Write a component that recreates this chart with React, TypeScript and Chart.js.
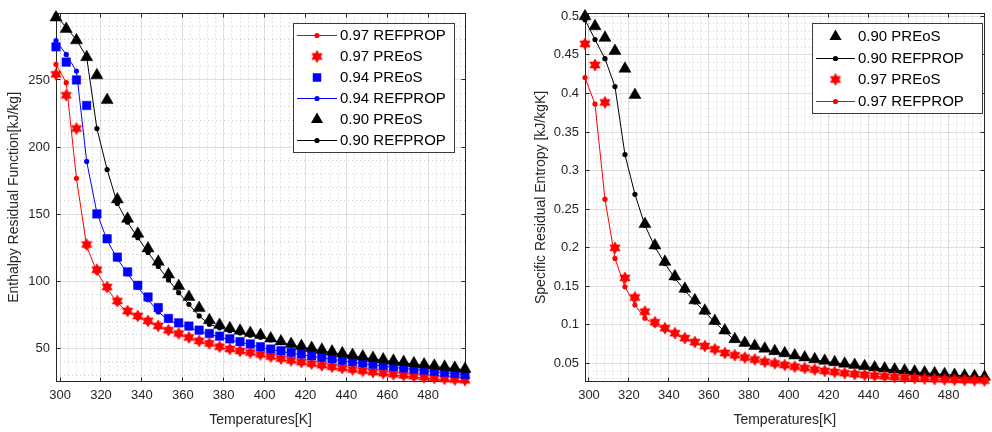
import React, { useEffect, useRef } from "react";
import { Chart, registerables } from "chart.js";

Chart.register(...registerables);

// ---------------- DATA ----------------
const temps = [298, 303, 308, 313, 318, 323, 328, 333, 338, 343, 348, 353, 358, 363, 368, 373, 378, 383, 388, 393, 398, 403, 408, 413, 418, 423, 428, 433, 438, 443, 448, 453, 458, 463, 468, 473, 478, 483, 488, 493, 498];

// Left: Enthalpy residual function [kJ/kg]
const hRef097 = [261.6, 248.0, 176.7, 126.0, 107.0, 94.5, 84.0, 77.0, 73.0, 69.5, 66.0, 63.0, 60.3, 57.6, 55.0, 53.0, 50.8, 49.0, 47.5, 46.2, 44.8, 43.2, 41.7, 40.4, 39.1, 37.9, 36.7, 35.6, 34.6, 33.6, 32.6, 31.7, 30.9, 30.1, 29.3, 28.6, 27.9, 27.3, 26.7, 26.2, 25.7];
const hPr097 = [254.2, 238.6, 213.8, 127.4, 108.6, 95.7, 85.3, 77.9, 74.2, 70.5, 66.8, 63.6, 61.1, 58.2, 55.6, 53.7, 51.3, 49.6, 48.1, 46.9, 45.5, 43.9, 42.4, 41.1, 39.8, 38.6, 37.4, 36.3, 35.3, 34.3, 33.3, 32.4, 31.5, 30.7, 29.9, 29.2, 28.5, 27.9, 27.3, 26.8, 26.3];
const hPr094 = [274.7, 263.3, 250.0, 231.0, 150.2, 131.7, 118.0, 107.0, 97.0, 88.3, 80.4, 72.3, 69.0, 66.6, 63.6, 61.1, 59.1, 57.1, 55.0, 53.3, 51.2, 49.5, 48.2, 47.0, 45.8, 44.5, 43.3, 42.2, 41.1, 40.1, 39.1, 38.1, 37.2, 36.3, 35.4, 34.6, 33.8, 33.0, 32.2, 31.4, 30.6];
const hRef094 = [279.4, 269.0, 256.6, 189.3, 151.0, 130.5, 116.8, 105.6, 95.6, 86.3, 77.2, 71.0, 68.0, 65.6, 62.9, 60.5, 58.5, 56.5, 54.5, 52.8, 50.8, 49.1, 47.7, 46.5, 45.3, 44.1, 42.9, 41.8, 40.7, 39.7, 38.7, 37.7, 36.8, 35.9, 35.0, 34.2, 33.4, 32.6, 31.8, 31.1, 30.3];
const hPr090 = [296.5, 288.0, 279.5, 267.0, 253.5, 235.0, 161.0, 146.5, 135.4, 124.5, 114.5, 105.0, 96.4, 88.3, 80.0, 71.0, 67.5, 65.0, 63.2, 61.5, 59.9, 57.4, 55.2, 53.3, 51.7, 50.3, 48.9, 47.6, 46.3, 45.1, 43.9, 42.9, 41.8, 40.8, 39.8, 38.9, 38.0, 37.1, 36.3, 35.5, 34.7];
const hRef090 = [298.5, 289.0, 280.0, 267.0, 213.8, 183.2, 158.0, 144.0, 132.5, 121.5, 111.0, 101.0, 91.5, 82.8, 74.2, 68.0, 65.3, 63.2, 61.5, 59.8, 58.3, 56.3, 54.3, 52.5, 50.9, 49.5, 48.1, 46.8, 45.5, 44.3, 43.2, 42.1, 41.1, 40.1, 39.1, 38.2, 37.3, 36.5, 35.7, 34.9, 34.1];

// Right: Specific residual entropy [kJ/kgK]
const sPr090 = [0.4999, 0.487, 0.472, 0.455, 0.432, 0.398, 0.2307, 0.203, 0.1817, 0.1628, 0.1468, 0.1318, 0.1185, 0.1052, 0.0928, 0.0815, 0.0767, 0.0726, 0.0692, 0.066, 0.0632, 0.0603, 0.0577, 0.0555, 0.0534, 0.0516, 0.0497, 0.0481, 0.0465, 0.0449, 0.0434, 0.0421, 0.0408, 0.0395, 0.0383, 0.0372, 0.0362, 0.0352, 0.0343, 0.0335, 0.0327];
const sRef090 = [0.4955, 0.4698, 0.445, 0.409, 0.3207, 0.2693, 0.229, 0.201, 0.1795, 0.1605, 0.1445, 0.1298, 0.1168, 0.1035, 0.0912, 0.0803, 0.0755, 0.0716, 0.0682, 0.065, 0.0622, 0.0594, 0.0569, 0.0547, 0.0527, 0.0509, 0.0491, 0.0475, 0.0459, 0.0444, 0.0429, 0.0416, 0.0403, 0.0391, 0.0379, 0.0368, 0.0358, 0.0348, 0.0339, 0.0331, 0.0323];
const sPr097 = [0.4643, 0.4369, 0.3884, 0.1999, 0.1609, 0.1356, 0.1172, 0.1035, 0.0958, 0.0893, 0.0829, 0.0778, 0.0726, 0.0684, 0.0636, 0.0607, 0.0577, 0.0551, 0.0523, 0.0502, 0.048, 0.0458, 0.044, 0.0421, 0.0404, 0.0389, 0.0375, 0.0363, 0.0352, 0.0342, 0.0333, 0.0324, 0.0317, 0.031, 0.0304, 0.0298, 0.0293, 0.0289, 0.0285, 0.0282, 0.0279];
const sRef097 = [0.4206, 0.3862, 0.2629, 0.1862, 0.1494, 0.1258, 0.1086, 0.1005, 0.094, 0.0878, 0.0815, 0.0765, 0.0715, 0.0673, 0.0627, 0.0598, 0.0569, 0.0543, 0.0516, 0.0496, 0.0474, 0.0452, 0.0434, 0.0415, 0.0398, 0.0383, 0.0369, 0.0357, 0.0346, 0.0336, 0.0327, 0.0318, 0.0311, 0.0304, 0.0298, 0.0292, 0.0287, 0.0283, 0.0279, 0.0276, 0.0273];

const xTicks = [300, 320, 340, 360, 380, 400, 420, 440, 460, 480];
const hTicks = [50, 100, 150, 200, 250];
const sTicks = [0.05, 0.1, 0.15, 0.2, 0.25, 0.3, 0.35, 0.4, 0.45, 0.5];

const xTitle = "Temperatures[K]";
const hTitle = "Enthalpy Residual Function[kJ/kg]";
const sTitle = "Specific Residual Entropy [kJ/kgK]";

// ---------------- STYLE ----------------
const FONT = "'Liberation Sans', Arial, Helvetica, sans-serif";
const AX = "#262626";
const GRID = "rgba(38,38,38,0.15)";
const MINOR = "rgba(38,38,38,0.22)";
const RED = "#ff0000";
const BLUE = "#0000ff";
const BLACK = "#000000";

function makeHexagram(color: string, R: number) {
  const size = Math.ceil(R * 2 + 2);
  const c = document.createElement("canvas");
  c.width = size;
  c.height = size;
  const g = c.getContext("2d")!;
  const cx = size / 2, cy = size / 2, r = R / Math.sqrt(3);
  g.beginPath();
  for (let k = 0; k < 12; k++) {
    const a = -Math.PI / 2 + (k * Math.PI) / 6;
    const rad = k % 2 === 0 ? R : r;
    g.lineTo(cx + rad * Math.cos(a), cy + rad * Math.sin(a));
  }
  g.closePath();
  g.fillStyle = color;
  g.fill();
  g.strokeStyle = color;
  g.lineWidth = 0.6;
  g.stroke();
  return c;
}

type Kind = "ref" | "tri" | "sq" | "hex";
interface Series { label: string; kind: Kind; color: string; values: number[] }

function toPts(vals: number[]) {
  return temps.map((t, i) => ({ x: t, y: vals[i] }));
}

function makeDataset(s: Series, idx: number, n: number, hex: HTMLCanvasElement) {
  const base: any = {
    label: s.label,
    data: toPts(s.values),
    clip: false,
    order: n - idx,
    borderColor: s.color,
    backgroundColor: s.color,
  };
  if (s.kind === "ref") {
    return { ...base, showLine: true, borderWidth: 1, pointStyle: "circle", pointRadius: 2.6, pointBorderWidth: 0, pointBackgroundColor: s.color };
  }
  if (s.kind === "tri") {
    return { ...base, showLine: false, pointStyle: "triangle", pointRadius: 7, pointBorderWidth: 0.5, pointBackgroundColor: s.color, pointBorderColor: s.color };
  }
  if (s.kind === "sq") {
    return { ...base, showLine: false, pointStyle: "rect", pointRadius: 6, pointBorderWidth: 0.5, pointBackgroundColor: s.color, pointBorderColor: s.color };
  }
  return { ...base, showLine: false, pointStyle: hex, pointRadius: 6 };
}

function drawMarker(ctx: CanvasRenderingContext2D, kind: Kind, color: string, cx: number, cy: number, hex: HTMLCanvasElement) {
  ctx.fillStyle = color;
  ctx.strokeStyle = color;
  if (kind === "tri") {
    const r = 7;
    ctx.beginPath();
    for (let k = 0; k < 3; k++) {
      const a = (k * 2 * Math.PI) / 3;
      ctx.lineTo(cx + Math.sin(a) * r, cy - Math.cos(a) * r);
    }
    ctx.closePath();
    ctx.fill();
  } else if (kind === "sq") {
    const h = 6 * Math.SQRT1_2;
    ctx.fillRect(cx - h, cy - h, 2 * h, 2 * h);
  } else if (kind === "hex") {
    ctx.drawImage(hex, cx - hex.width / 2, cy - hex.height / 2);
  } else {
    ctx.beginPath();
    ctx.arc(cx, cy, 2.6, 0, Math.PI * 2);
    ctx.fill();
  }
}

interface PanelCfg {
  series: Series[];
  yMin: number; yMax: number; yTicks: number[]; yTitle: string;
  yFmt: (v: number) => string;
  minorY: number[];
  yWidth: number; padRight: number; yTitlePad: number;
  legend: { x: number; y: number; w: number; h: number; row0: number; rowStep: number; lineX1: number; lineX2: number; textX: number };
}

const minorX: number[] = [];
for (let v = 300; v < 498; v += 4) if (v % 20 !== 0) minorX.push(v);
const minorH: number[] = [];
for (let v = 30; v < 299; v += 10) if (v % 50 !== 0) minorH.push(v);
const minorS: number[] = [];
for (let k = 3; k <= 50; k++) if (k % 5 !== 0) minorS.push(k / 100);

function alignPx(p: number) { return Math.round(p - 0.5) + 0.5; }

function buildConfig(cfg: PanelCfg): any {
  const hex = makeHexagram(RED, 6);
  const n = cfg.series.length;
  const plugin = {
    id: "matlabFrame",
    beforeDatasetsDraw(chart: any) {
      const { ctx, chartArea: a, scales } = chart;
      const xs = scales.x, ys = scales.y;
      ctx.save();
      ctx.lineWidth = 1;
      ctx.strokeStyle = MINOR;
      ctx.setLineDash([1, 3]);
      minorX.forEach((v) => {
        const p = alignPx(xs.getPixelForValue(v));
        ctx.beginPath(); ctx.moveTo(p, a.top); ctx.lineTo(p, a.bottom); ctx.stroke();
      });
      cfg.minorY.forEach((v) => {
        if (v < cfg.yMin || v > cfg.yMax) return;
        const p = alignPx(ys.getPixelForValue(v));
        ctx.beginPath(); ctx.moveTo(a.left, p); ctx.lineTo(a.right, p); ctx.stroke();
      });
      ctx.setLineDash([]);
      ctx.strokeStyle = AX;
      const L = alignPx(a.left), R = alignPx(a.right), T = alignPx(a.top), B = alignPx(a.bottom);
      ctx.strokeRect(L, T, R - L, B - T);
      const tl = 4;
      xTicks.forEach((v) => {
        const p = alignPx(xs.getPixelForValue(v));
        ctx.beginPath();
        ctx.moveTo(p, B); ctx.lineTo(p, B - tl);
        ctx.moveTo(p, T); ctx.lineTo(p, T + tl);
        ctx.stroke();
      });
      cfg.yTicks.forEach((v) => {
        const p = alignPx(ys.getPixelForValue(v));
        ctx.beginPath();
        ctx.moveTo(L, p); ctx.lineTo(L + tl, p);
        ctx.moveTo(R, p); ctx.lineTo(R - tl, p);
        ctx.stroke();
      });
      ctx.restore();
    },
    afterDatasetsDraw(chart: any) {
      const ctx = chart.ctx as CanvasRenderingContext2D;
      const lg = cfg.legend;
      ctx.save();
      ctx.fillStyle = "#ffffff";
      ctx.fillRect(lg.x, lg.y, lg.w, lg.h);
      ctx.strokeStyle = "#3a3a3a";
      ctx.lineWidth = 1;
      ctx.strokeRect(lg.x + 0.5, lg.y + 0.5, lg.w, lg.h);
      cfg.series.forEach((s, i) => {
        const cy = lg.y + lg.row0 + i * lg.rowStep;
        const cx = (lg.lineX1 + lg.lineX2) / 2;
        if (s.kind === "ref") {
          ctx.strokeStyle = s.color;
          ctx.lineWidth = 1;
          ctx.beginPath();
          ctx.moveTo(lg.lineX1, Math.round(cy) + 0.5);
          ctx.lineTo(lg.lineX2, Math.round(cy) + 0.5);
          ctx.stroke();
        }
        drawMarker(ctx, s.kind, s.color, cx, Math.round(cy) + 0.5, hex);
        ctx.fillStyle = "#000000";
        ctx.font = `15px ${FONT}`;
        ctx.textBaseline = "middle";
        ctx.textAlign = "left";
        ctx.fillText(s.label, lg.textX, cy + 1);
      });
      ctx.restore();
    },
  };

  return {
    type: "scatter",
    data: { datasets: cfg.series.map((s, i) => makeDataset(s, i, n, hex)) },
    options: {
      animation: false,
      responsive: false,
      maintainAspectRatio: false,
      events: [],
      layout: { padding: { top: 12, right: cfg.padRight, bottom: 0, left: 0 } },
      plugins: { legend: { display: false }, tooltip: { enabled: false } },
      scales: {
        x: {
          type: "linear",
          min: 298,
          max: 498,
          afterBuildTicks: (s: any) => { s.ticks = xTicks.map((v) => ({ value: v })); },
          afterFit: (s: any) => { s.height = 51; },
          border: { display: false },
          grid: { color: GRID, lineWidth: 1, drawTicks: false },
          ticks: { color: AX, font: { family: FONT, size: 13 }, padding: 7, maxRotation: 0, autoSkip: false, callback: (v: any) => String(v) },
          title: { display: true, text: xTitle, color: AX, font: { family: FONT, size: 14 }, padding: { top: 0, bottom: 3.5 } },
        },
        y: {
          type: "linear",
          min: cfg.yMin,
          max: cfg.yMax,
          afterBuildTicks: (s: any) => { s.ticks = cfg.yTicks.map((v) => ({ value: v })); },
          afterFit: (s: any) => { s.width = cfg.yWidth; },
          border: { display: false },
          grid: { color: GRID, lineWidth: 1, drawTicks: false },
          ticks: { color: AX, font: { family: FONT, size: 13 }, padding: 6, autoSkip: false, callback: (v: any) => cfg.yFmt(Number(v)) },
          title: { display: true, text: cfg.yTitle, color: AX, font: { family: FONT, size: 14 }, padding: { top: cfg.yTitlePad, bottom: 0 } },
        },
      },
    },
    plugins: [plugin],
  };
}

const leftSeries: Series[] = [
  { label: "0.97 REFPROP", kind: "ref", color: RED, values: hRef097 },
  { label: "0.97 PREoS", kind: "hex", color: RED, values: hPr097 },
  { label: "0.94 PREoS", kind: "sq", color: BLUE, values: hPr094 },
  { label: "0.94 REFPROP", kind: "ref", color: BLUE, values: hRef094 },
  { label: "0.90 PREoS", kind: "tri", color: BLACK, values: hPr090 },
  { label: "0.90 REFPROP", kind: "ref", color: BLACK, values: hRef090 },
];

const rightSeries: Series[] = [
  { label: "0.90 PREoS", kind: "tri", color: BLACK, values: sPr090 },
  { label: "0.90 REFPROP", kind: "ref", color: BLACK, values: sRef090 },
  { label: "0.97 PREoS", kind: "hex", color: RED, values: sPr097 },
  { label: "0.97 REFPROP", kind: "ref", color: RED, values: sRef097 },
];

const leftCfg: PanelCfg = {
  series: leftSeries,
  yMin: 25.7, yMax: 299.3, yTicks: hTicks, yTitle: hTitle,
  yFmt: (v) => String(v),
  minorY: minorH,
  yWidth: 56, padRight: 31, yTitlePad: 6,
  legend: { x: 293, y: 23, w: 161, h: 129, row0: 12, rowStep: 21, lineX1: 297, lineX2: 337, textX: 340 },
};

const rightCfg: PanelCfg = {
  series: rightSeries,
  yMin: 0.0273, yMax: 0.5032, yTicks: sTicks, yTitle: sTitle,
  yFmt: (v) => String(Number(v.toFixed(2))),
  minorY: minorS,
  yWidth: 89, padRight: 1, yTitlePad: 36.5,
  legend: { x: 316, y: 23, w: 170, h: 90, row0: 13, rowStep: 21.5, lineX1: 320, lineX2: 359, textX: 362 },
};

function Panel({ cfg }: { cfg: PanelCfg }) {
  const ref = useRef<HTMLCanvasElement | null>(null);
  useEffect(() => {
    if (!ref.current) return;
    const chart = new Chart(ref.current, buildConfig(cfg));
    return () => chart.destroy();
  }, [cfg]);
  return <canvas ref={ref} width={496} height={432} style={{ display: "block", width: 496, height: 432 }} />;
}

export default function App() {
  return (
    <div style={{ position: "fixed", left: 0, top: 0, width: 992, height: 432, display: "flex", background: "#ffffff", overflow: "hidden" }}>
      <Panel cfg={leftCfg} />
      <Panel cfg={rightCfg} />
    </div>
  );
}
